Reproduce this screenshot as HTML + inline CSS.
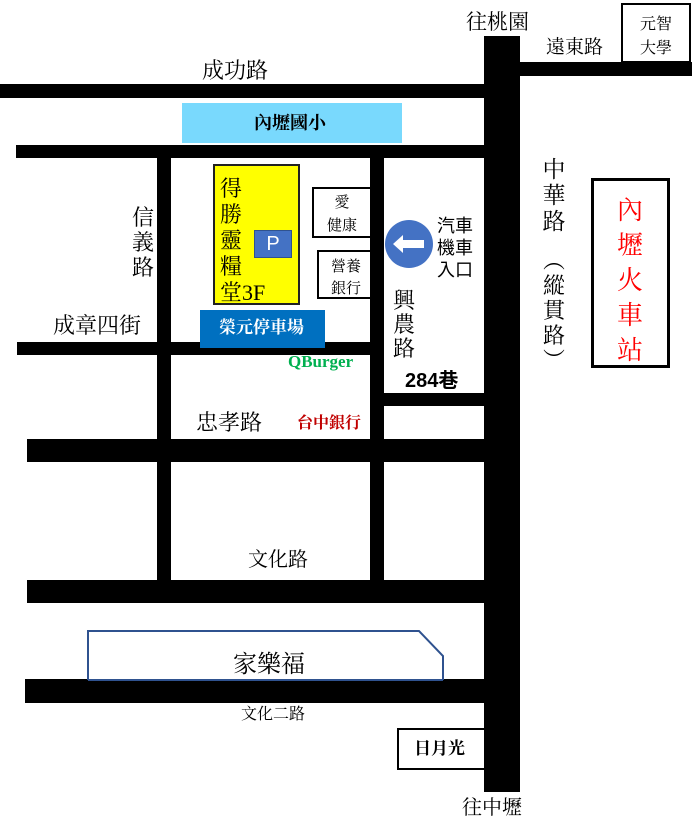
<!DOCTYPE html>
<html><head><meta charset="utf-8"><style>
body{margin:0;width:692px;height:835px;background:#fff;position:relative;overflow:hidden;font-family:"Liberation Serif","Noto Serif CJK SC",serif;color:#000}
.r{position:absolute;background:#000}
.b{position:absolute;box-sizing:border-box}
.t{position:absolute;white-space:nowrap;line-height:1}
.v{position:absolute;line-height:1;text-align:center}
</style></head><body>
<!-- roads -->
<div class="r" style="left:484px;top:36px;width:36px;height:756px"></div>
<div class="r" style="left:520px;top:62px;width:172px;height:14px"></div>
<div class="r" style="left:0;top:84px;width:484px;height:14px"></div>
<div class="r" style="left:16px;top:145px;width:468px;height:13px"></div>
<div class="r" style="left:157px;top:158px;width:14px;height:422px"></div>
<div class="r" style="left:370px;top:158px;width:14px;height:422px"></div>
<div class="r" style="left:17px;top:342px;width:353px;height:13px"></div>
<div class="r" style="left:384px;top:393px;width:100px;height:13px"></div>
<div class="r" style="left:27px;top:439px;width:463px;height:23px"></div>
<div class="r" style="left:27px;top:580px;width:463px;height:23px"></div>
<div class="r" style="left:25px;top:679px;width:460px;height:24px"></div>

<!-- boxes -->
<div class="b" style="left:621px;top:3px;width:70px;height:60px;border:2px solid #000;background:#fff"></div>
<div class="b" style="left:182px;top:103px;width:220px;height:40px;background:#79d9fd"></div>
<div class="b" style="left:213px;top:164px;width:87px;height:141px;background:#ff0;border:2px solid #222"></div>
<div class="b" style="left:254px;top:230px;width:38px;height:28px;background:#4472c4;border:1px solid #2f528f;color:#fff;font-family:'Liberation Sans',sans-serif;font-size:20px;text-align:center;line-height:26px">P</div>
<div class="b" style="left:312px;top:187px;width:62px;height:51px;border:2px solid #000;border-right:none"></div>
<div class="b" style="left:317px;top:250px;width:57px;height:49px;border:2px solid #000;border-right:none"></div>
<div class="b" style="left:200px;top:310px;width:125px;height:38px;background:#0070c0"></div>
<div class="b" style="left:591px;top:178px;width:79px;height:190px;border:3px solid #000"></div>
<div class="b" style="left:397px;top:728px;width:88px;height:42px;border:2px solid #000;border-right:none"></div>
<svg style="position:absolute;left:0;top:0" width="692" height="835">
<polyline points="88,680 88,631 419,631 443,656 443,680" fill="none" stroke="#2f528f" stroke-width="2"/>
<line x1="88" y1="680" x2="443" y2="680" stroke="#2f528f" stroke-width="2"/>
<circle cx="409" cy="244" r="24" fill="#4472c4"/>
<polygon points="393,244 403,235 403,240 424,240 424,248 403,248 403,253" fill="#fff"/>
</svg>

<!-- text -->
<div class="t" style="left:466px;top:12px;font-size:21px">往桃園</div>
<div class="t" style="left:546px;top:38px;font-size:19px">遠東路</div>
<div class="v" style="left:637px;top:13px;width:38px;font-size:16px;line-height:24px">元智<br>大學</div>
<div class="t" style="left:202px;top:60px;font-size:22px">成功路</div>
<div class="t" style="left:254px;top:114px;font-size:18px;font-weight:bold">內壢國小</div>
<div class="v" style="left:131px;top:205px;width:24px;font-size:22px;line-height:25px">信<br>義<br>路</div>
<div class="t" style="left:53px;top:315px;font-size:22px">成章四街</div>
<div class="v" style="left:220px;top:176px;font-size:22px;line-height:26px;text-align:left">得<br>勝<br>靈<br>糧<br>堂3F</div>
<div class="v" style="left:322px;top:192px;width:40px;font-size:15px;line-height:23px">愛<br>健康</div>
<div class="v" style="left:322px;top:256px;width:48px;font-size:15px;line-height:22px">營養<br>銀行</div>
<div class="t" style="left:219px;top:319px;font-size:17px;font-weight:bold;color:#fff">榮元停車場</div>
<div class="t" style="left:437px;top:215px;font-size:18px;line-height:22px;font-family:'Liberation Sans','Noto Sans CJK TC',sans-serif">汽車<br>機車<br>入口</div>
<div class="v" style="left:392px;top:289px;width:24px;font-size:22px;line-height:24px">興<br>農<br>路</div>
<div class="t" style="left:288px;top:353px;font-size:17px;font-weight:bold;color:#00b050">QBurger</div>
<div class="t" style="left:405px;top:371px;font-size:20px;font-weight:bold;font-family:'Liberation Sans','Noto Sans CJK TC',sans-serif">284巷</div>
<div class="t" style="left:196px;top:412px;font-size:22px">忠孝路</div>
<div class="t" style="left:297px;top:416px;font-size:16px;color:#c00000;font-weight:bold">台中銀行</div>
<div class="t" style="left:248px;top:550px;font-size:20px">文化路</div>
<div class="t" style="left:233px;top:653px;font-size:24px">家樂福</div>
<div class="t" style="left:241px;top:707px;font-size:16px">文化二路</div>
<div class="t" style="left:414px;top:740px;font-size:17px;font-weight:bold">日月光</div>
<div class="t" style="left:462px;top:798px;font-size:20px">往中壢</div>
<div class="v" style="left:541px;top:157px;width:26px;font-size:23px;line-height:26px">中<br>華<br>路</div>
<div class="v" style="left:541px;top:248px;width:26px;font-size:22px;line-height:25px">︵<br>縱<br>貫<br>路<br>︶</div>
<div class="v" style="left:604px;top:193px;width:52px;font-size:26px;line-height:35px;color:#f00">內<br>壢<br>火<br>車<br>站</div>
</body></html>
